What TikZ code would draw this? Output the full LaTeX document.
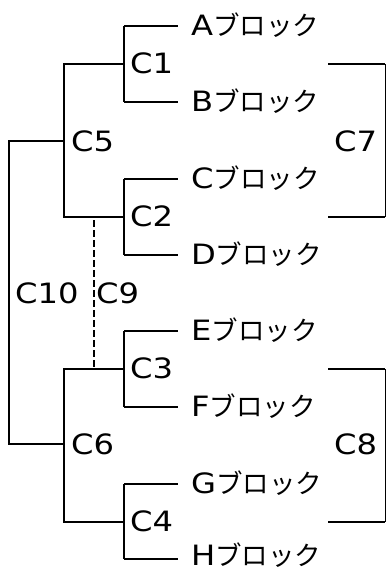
\documentclass[tikz,border=0pt]{standalone}
\usepackage{fontspec}
\setmainfont{DejaVu Sans}[FakeStretch=1.15]
\newfontfamily\kana{Noto Sans CJK JP}
\begin{document}
\begin{tikzpicture}[x=1pt,y=-1pt,font=\fontsize{28}{28}\selectfont,
  branch/.style={line width=1.5pt},
  cname/.style={anchor=base west,inner sep=0pt}]
\useasboundingbox (0,0) rectangle (386,571);
% leaves
\foreach \name/\y/\b in {A/26/35,B/102/111,C/179/188,D/255/264,E/331/340,F/407/416,G/484/493,H/559/565}{
  \coordinate (tip\name) at (124,\y);
  \node[cname] (leaf\name) at (191,\b) {\name{\kana\fontsize{26.5}{27}\selectfont ブロック}};
  \draw[branch,shorten >=13pt] (tip\name) -- (tip\name -| leaf\name.west);
}
% joints
\coordinate (c1) at (124,64);
\coordinate (c2) at (124,217);
\coordinate (c3) at (124,369);
\coordinate (c4) at (124,522);
\coordinate (c5) at (64,141);
\coordinate (c6) at (64,444);
\coordinate (c10) at (9,292);
\draw[branch] (tipA) -- (tipB);
\draw[branch] (tipC) -- (tipD);
\draw[branch] (tipE) -- (tipF);
\draw[branch] (tipG) -- (tipH);
\draw[branch] (c1) -| (c5);
\draw[branch] (c2) -| (c5);
\draw[branch] (c3) -| (c6);
\draw[branch] (c4) -| (c6);
\draw[branch] (c5) -| (c10);
\draw[branch] (c6) -| (c10);
\draw[line width=1.3pt,dash pattern=on 7pt off 3pt] (94,220) -- (94,369);
% brackets
\draw[line width=1.8pt] (328,64) -- (385,64) (328,217) -- (385,217);
\draw[line width=0.9pt] (385,64) -- (385,217);
\draw[line width=1.8pt] (328,369) -- (385,369) (328,522) -- (385,522);
\draw[line width=0.9pt] (385,369) -- (385,522);
% labels
\node[cname] (lc1) at (130,73) {C1};
\node[cname] (lc2) at (130,226) {C2};
\node[cname] (lc3) at (130,378) {C3};
\node[cname] (lc4) at (130,531) {C4};
\node[cname] (lc5) at (71,151) {C5};
\node[cname] (lc6) at (71,454) {C6};
\node[cname] (lc7) at (334,151) {C7};
\node[cname] (lc8) at (334,454) {C8};
\node[cname] (lc9) at (96,303) {C9};
\node[cname] (lc10) at (15,303) {C10};
\end{tikzpicture}
\end{document}
